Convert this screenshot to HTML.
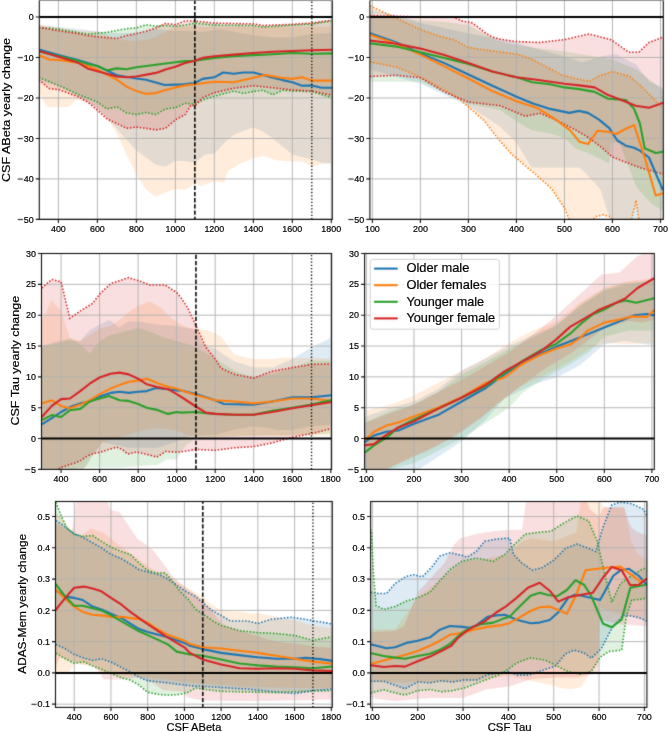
<!DOCTYPE html>
<html><head><meta charset="utf-8"><style>
html,body{margin:0;padding:0;background:#fff;}
svg{display:block;font-family:"Liberation Sans",sans-serif;} text{stroke:#000;stroke-width:0.2px;} #w{width:668px;height:732px;overflow:hidden;}
</style></head><body><div id="w">
<svg width="668" height="732" viewBox="0 0 668 732">
<defs><filter id="idf" filterUnits="userSpaceOnUse" x="0" y="0" width="668" height="732" color-interpolation-filters="sRGB"><feOffset dx="0" dy="0"/></filter><filter id="bl" filterUnits="userSpaceOnUse" x="0" y="0" width="668" height="732" color-interpolation-filters="sRGB"><feConvolveMatrix order="3" kernelMatrix="0.01440 0.09120 0.01440 0.09120 0.57760 0.09120 0.01440 0.09120 0.01440" edgeMode="duplicate" preserveAlpha="true"/></filter></defs>
<g filter="url(#bl)">
<rect width="668" height="732" fill="#fff"/>
<clipPath id="c1"><rect x="39.30" y="0.50" width="293.00" height="218.90"/></clipPath>
<g clip-path="url(#c1)">
<path d="M38.9 25.1 L77.9 29.1 L97.4 31.2 L116.9 33.2 L136.4 32.4 L155.9 29.1 L175.4 31.2 L181.2 30.8 L202.6 32.0 L221.2 29.5 L253.3 35.2 L272.8 37.6 L292.3 37.6 L311.8 34.0 L331.3 32.8 L331.3 163.1 L321.6 162.7 L311.8 159.5 L302.1 157.1 L292.3 154.6 L282.6 146.5 L272.8 138.4 L263.1 131.6 L253.3 127.5 L233.8 134.4 L224.1 142.9 L214.3 153.4 L204.6 154.6 L194.9 162.7 L185.1 161.1 L175.4 160.7 L165.6 166.4 L155.9 164.8 L136.4 150.6 L116.9 129.1 L107.1 118.2 L97.4 108.1 L77.9 95.9 L58.4 85.8 L38.9 81.8 Z" fill="#1f77b4" fill-opacity="0.15"/>
<path d="M38.9 24.3 L58.4 27.5 L77.9 30.4 L97.4 31.6 L107.1 35.2 L116.9 38.9 L130.5 41.3 L146.1 40.1 L154.9 37.2 L163.7 32.8 L175.4 26.7 L331.3 26.7 L331.3 163.9 L321.6 163.9 L311.8 166.4 L302.1 161.5 L292.3 161.5 L276.7 160.3 L263.1 155.8 L253.3 158.3 L239.7 163.9 L228.0 170.8 L224.1 182.6 L214.3 181.3 L200.7 186.2 L194.9 183.0 L191.0 187.0 L185.1 189.8 L175.4 189.0 L165.6 192.3 L155.9 196.7 L146.1 189.8 L136.4 174.5 L126.6 154.6 L116.9 133.6 L107.1 118.2 L97.4 108.1 L87.6 102.0 L75.9 100.0 L68.1 106.9 L46.7 106.9 L38.9 91.9 Z" fill="#ff7f0e" fill-opacity="0.15"/>
<path d="M38.9 27.7 L48.7 28.1 L58.4 29.1 L77.9 32.4 L87.6 34.0 L97.4 33.2 L107.1 32.4 L116.9 30.4 L126.6 28.7 L136.4 27.9 L146.1 24.7 L155.9 26.3 L165.6 25.5 L175.4 26.3 L185.1 25.1 L194.9 23.1 L214.3 25.1 L253.3 25.5 L263.1 27.1 L292.3 25.1 L311.8 23.9 L331.3 21.0 L331.3 97.6 L311.8 91.5 L292.3 91.1 L282.6 90.3 L272.8 94.7 L263.1 90.3 L253.3 91.5 L243.6 93.5 L233.8 91.1 L214.3 96.3 L202.6 100.0 L194.9 104.4 L185.1 103.2 L175.4 107.7 L165.6 108.9 L155.9 114.6 L146.1 112.5 L136.4 114.6 L126.6 112.9 L116.9 106.9 L107.1 108.9 L97.4 102.0 L77.9 94.3 L58.4 85.4 L38.9 77.3 Z" fill="#2ca02c" fill-opacity="0.15"/>
<path d="M38.9 27.3 L46.7 28.7 L58.4 30.8 L77.9 33.6 L87.6 35.6 L97.4 36.8 L116.9 38.5 L126.6 35.6 L136.4 33.6 L146.1 31.2 L155.9 27.9 L165.6 23.5 L175.4 24.7 L185.1 21.0 L194.9 21.0 L214.3 23.1 L253.3 23.9 L263.1 25.5 L292.3 24.3 L311.8 23.1 L331.3 20.2 L331.3 95.1 L311.8 91.1 L292.3 89.9 L272.8 87.8 L253.3 85.8 L233.8 88.2 L214.3 92.7 L202.6 97.6 L194.9 105.7 L191.0 105.2 L185.1 114.6 L175.4 119.8 L165.6 128.3 L155.9 129.9 L146.1 128.3 L136.4 127.1 L126.6 128.3 L116.9 123.5 L107.1 119.0 L97.4 110.1 L87.6 102.0 L77.9 96.7 L58.4 89.5 L49.0 88.6 L38.9 79.7 Z" fill="#d62728" fill-opacity="0.15"/>
<path d="M58.40 0.50 V219.40 M97.39 0.50 V219.40 M136.37 0.50 V219.40 M175.36 0.50 V219.40 M214.34 0.50 V219.40 M253.33 0.50 V219.40 M292.31 0.50 V219.40 M331.30 0.50 V219.40 M39.30 17.00 H332.30 M39.30 57.48 H332.30 M39.30 97.96 H332.30 M39.30 138.44 H332.30 M39.30 178.92 H332.30 M39.30 219.40 H332.30" stroke="#b0b0b0" stroke-width="0.9" fill="none"/>
<path d="M38.9 27.7 L48.7 28.1 L58.4 29.1 L77.9 32.4 L87.6 34.0 L97.4 33.2 L107.1 32.4 L116.9 30.4 L126.6 28.7 L136.4 27.9 L146.1 24.7 L155.9 26.3 L165.6 25.5 L175.4 26.3 L185.1 25.1 L194.9 23.1 L214.3 25.1 L253.3 25.5 L263.1 27.1 L292.3 25.1 L311.8 23.9 L331.3 21.0" stroke="#2ca02c" stroke-width="1.6" stroke-dasharray="1.5 1.8" fill="none"/>
<path d="M38.9 77.3 L58.4 85.4 L77.9 94.3 L97.4 102.0 L107.1 108.9 L116.9 106.9 L126.6 112.9 L136.4 114.6 L146.1 112.5 L155.9 114.6 L165.6 108.9 L175.4 107.7 L185.1 103.2 L194.9 104.4 L202.6 100.0 L214.3 96.3 L233.8 91.1 L243.6 93.5 L253.3 91.5 L263.1 90.3 L272.8 94.7 L282.6 90.3 L292.3 91.1 L311.8 91.5 L331.3 97.6" stroke="#2ca02c" stroke-width="1.6" stroke-dasharray="1.5 1.8" fill="none"/>
<path d="M38.9 27.3 L46.7 28.7 L58.4 30.8 L77.9 33.6 L87.6 35.6 L97.4 36.8 L116.9 38.5 L126.6 35.6 L136.4 33.6 L146.1 31.2 L155.9 27.9 L165.6 23.5 L175.4 24.7 L185.1 21.0 L194.9 21.0 L214.3 23.1 L253.3 23.9 L263.1 25.5 L292.3 24.3 L311.8 23.1 L331.3 20.2" stroke="#d62728" stroke-width="1.6" stroke-dasharray="1.5 1.8" fill="none"/>
<path d="M38.9 79.7 L49.0 88.6 L58.4 89.5 L77.9 96.7 L87.6 102.0 L97.4 110.1 L107.1 119.0 L116.9 123.5 L126.6 128.3 L136.4 127.1 L146.1 128.3 L155.9 129.9 L165.6 128.3 L175.4 119.8 L185.1 114.6 L191.0 105.2 L194.9 105.7 L202.6 97.6 L214.3 92.7 L233.8 88.2 L253.3 85.8 L272.8 87.8 L292.3 89.9 L311.8 91.1 L331.3 95.1" stroke="#d62728" stroke-width="1.6" stroke-dasharray="1.5 1.8" fill="none"/>
<path d="M38.9 49.4 L58.4 55.1 L77.9 59.9 L97.4 66.0 L116.9 75.3 L136.4 78.5 L146.1 79.7 L164.6 85.0 L175.4 84.6 L181.2 84.6 L194.9 83.0 L202.6 78.9 L214.3 77.3 L223.1 72.5 L233.8 73.7 L243.6 72.5 L253.3 72.5 L263.1 74.9 L272.8 77.7 L282.6 80.1 L292.3 82.2 L302.1 85.8 L311.8 85.4 L321.6 87.8 L331.3 87.8" stroke="#1f77b4" stroke-width="2.1" fill="none" stroke-linejoin="round" stroke-linecap="square"/>
<path d="M38.9 55.1 L49.0 59.5 L58.4 59.9 L77.9 62.7 L97.4 69.6 L116.9 79.7 L126.6 86.6 L136.4 91.1 L146.1 93.9 L155.9 93.1 L165.6 89.9 L175.4 87.4 L185.1 85.4 L194.9 84.2 L214.3 81.8 L233.8 82.2 L253.3 77.7 L265.0 74.9 L280.6 77.7 L292.3 78.9 L302.1 77.3 L311.8 80.6 L331.3 80.6" stroke="#ff7f0e" stroke-width="2.1" fill="none" stroke-linejoin="round" stroke-linecap="square"/>
<path d="M38.9 51.4 L58.4 55.9 L77.9 60.7 L87.6 64.0 L97.4 66.0 L107.1 70.4 L116.9 68.4 L126.6 69.2 L136.4 67.2 L155.9 64.8 L175.4 62.3 L185.1 61.1 L194.9 60.7 L214.3 57.9 L233.8 56.3 L253.3 55.1 L272.8 54.2 L292.3 53.0 L311.8 53.8 L331.3 53.4" stroke="#2ca02c" stroke-width="2.1" fill="none" stroke-linejoin="round" stroke-linecap="square"/>
<path d="M38.9 51.0 L58.4 56.7 L77.9 62.7 L87.6 68.4 L97.4 71.2 L116.9 76.5 L126.6 77.3 L136.4 76.5 L155.9 72.9 L165.6 69.6 L175.4 66.8 L185.1 63.1 L194.9 60.7 L202.6 57.9 L214.3 56.3 L233.8 54.6 L253.3 53.0 L272.8 51.8 L292.3 51.0 L311.8 50.2 L331.3 49.8" stroke="#d62728" stroke-width="2.1" fill="none" stroke-linejoin="round" stroke-linecap="square"/>
<path d="M39.30 17.00 H332.30" stroke="#000" stroke-width="2.0"/>
<path d="M194.85 219.40 V0.50" stroke="#111" stroke-width="1.65" stroke-dasharray="4.3 1.9" stroke-dashoffset="1.60"/>
<path d="M311.81 219.40 V0.50" stroke="#111" stroke-width="1.4" stroke-dasharray="1.3 1.98"/>
</g>
<path d="M39.30 0.50 V219.40 H332.30 V0.50" fill="none" stroke="#111" stroke-width="1.1"/>
<path d="M39.30 0.30 H332.30" stroke="#111" stroke-opacity="0.45" stroke-width="1.6"/>
<path d="M58.40 219.40 v3.5 M97.39 219.40 v3.5 M136.37 219.40 v3.5 M175.36 219.40 v3.5 M214.34 219.40 v3.5 M253.33 219.40 v3.5 M292.31 219.40 v3.5 M331.30 219.40 v3.5 M39.30 17.00 h-3.5 M39.30 57.48 h-3.5 M39.30 97.96 h-3.5 M39.30 138.44 h-3.5 M39.30 178.92 h-3.5 M39.30 219.40 h-3.5" stroke="#111" stroke-width="1.1"/>
<path d="M17.73 57.63 H22.95" stroke="#000" stroke-width="0.95"/>
<path d="M17.73 98.11 H22.95" stroke="#000" stroke-width="0.95"/>
<path d="M17.73 138.59 H22.95" stroke="#000" stroke-width="0.95"/>
<path d="M17.73 179.07 H22.95" stroke="#000" stroke-width="0.95"/>
<path d="M17.73 219.55 H22.95" stroke="#000" stroke-width="0.95"/>
<clipPath id="c2"><rect x="369.90" y="0.50" width="293.40" height="218.90"/></clipPath>
<g clip-path="url(#c2)">
<path d="M370.0 8.9 L396.4 15.0 L420.4 23.1 L468.4 33.6 L508.8 40.5 L542.4 50.6 L565.9 56.7 L582.2 62.3 L602.4 55.9 L615.8 54.2 L636.0 64.4 L649.5 81.4 L662.9 87.8 L662.9 227.5 L612.5 227.5 L600.5 189.8 L594.2 182.2 L579.8 167.6 L531.3 167.6 L516.5 142.5 L500.1 126.7 L487.6 118.2 L468.4 106.1 L420.4 83.8 L370.0 69.6 Z" fill="#1f77b4" fill-opacity="0.15"/>
<path d="M370.0 5.7 L392.6 16.6 L420.4 29.5 L440.1 36.4 L453.5 39.7 L468.4 47.4 L483.8 49.8 L501.1 52.2 L517.9 54.2 L531.3 59.1 L544.8 66.0 L561.6 74.9 L575.0 78.5 L589.0 81.4 L599.0 76.1 L612.5 71.6 L629.3 76.1 L642.7 87.8 L656.2 101.6 L662.9 108.1 L662.9 239.6 L639.4 223.4 L636.0 200.4 L630.7 223.4 L614.9 223.4 L610.1 216.6 L602.9 214.9 L595.7 216.6 L590.9 223.4 L570.2 221.4 L564.0 207.3 L551.5 188.6 L537.6 176.1 L525.1 165.6 L512.6 155.0 L500.1 141.3 L483.8 120.2 L468.4 106.9 L460.3 100.0 L444.4 89.9 L420.4 76.9 L396.4 67.2 L370.0 61.9 Z" fill="#ff7f0e" fill-opacity="0.15"/>
<path d="M370.0 15.0 L396.4 18.2 L420.4 20.2 L444.4 21.9 L468.4 25.1 L482.8 33.2 L497.2 40.5 L516.5 45.3 L564.5 51.4 L612.5 59.5 L636.5 69.6 L662.9 89.9 L662.9 211.3 L650.9 203.2 L636.5 187.0 L626.9 162.7 L619.7 142.5 L611.0 142.5 L609.1 163.5 L600.5 159.1 L588.0 153.0 L575.5 148.6 L564.9 138.0 L552.5 134.0 L531.3 129.9 L516.5 121.4 L500.1 110.1 L468.4 104.0 L420.4 81.8 L370.0 81.8 Z" fill="#2ca02c" fill-opacity="0.15"/>
<path d="M370.0 15.8 L396.4 16.2 L420.4 17.0 L454.0 17.0 L462.7 21.3 L471.3 22.5 L478.0 27.0 L484.8 32.5 L492.0 37.0 L500.6 39.3 L516.0 41.5 L539.0 42.5 L564.0 39.7 L589.0 34.0 L611.0 39.7 L628.8 52.2 L638.9 52.2 L649.0 42.5 L662.9 37.2 L662.9 174.1 L639.9 167.6 L625.9 162.3 L612.5 157.1 L600.5 146.5 L588.0 137.2 L575.5 129.9 L563.0 123.5 L550.1 117.4 L540.0 113.3 L525.1 116.2 L512.6 110.9 L500.1 105.7 L468.4 102.0 L444.4 91.9 L420.4 77.7 L396.4 75.3 L370.0 76.5 Z" fill="#d62728" fill-opacity="0.15"/>
<path d="M372.40 0.50 V219.40 M420.42 0.50 V219.40 M468.43 0.50 V219.40 M516.45 0.50 V219.40 M564.47 0.50 V219.40 M612.48 0.50 V219.40 M660.50 0.50 V219.40 M369.90 17.00 H663.30 M369.90 57.48 H663.30 M369.90 97.96 H663.30 M369.90 138.44 H663.30 M369.90 178.92 H663.30 M369.90 219.40 H663.30" stroke="#b0b0b0" stroke-width="0.9" fill="none"/>
<path d="M370.0 5.7 L392.6 16.6 L420.4 29.5 L440.1 36.4 L453.5 39.7 L468.4 47.4 L483.8 49.8 L501.1 52.2 L517.9 54.2 L531.3 59.1 L544.8 66.0 L561.6 74.9 L575.0 78.5 L589.0 81.4 L599.0 76.1 L612.5 71.6 L629.3 76.1 L642.7 87.8 L656.2 101.6 L662.9 108.1" stroke="#ff7f0e" stroke-width="1.6" stroke-dasharray="1.5 1.8" fill="none"/>
<path d="M370.0 61.9 L396.4 67.2 L420.4 76.9 L444.4 89.9 L460.3 100.0 L468.4 106.9 L483.8 120.2 L500.1 141.3 L512.6 155.0 L525.1 165.6 L537.6 176.1 L551.5 188.6 L564.0 207.3 L570.2 221.4 L590.9 223.4 L595.7 216.6 L602.9 214.9 L610.1 216.6 L614.9 223.4 L630.7 223.4 L636.0 200.4 L639.4 223.4 L662.9 239.6" stroke="#ff7f0e" stroke-width="1.6" stroke-dasharray="1.5 1.8" fill="none"/>
<path d="M370.0 15.8 L396.4 16.2 L420.4 17.0 L454.0 17.0 L462.7 21.3 L471.3 22.5 L478.0 27.0 L484.8 32.5 L492.0 37.0 L500.6 39.3 L516.0 41.5 L539.0 42.5 L564.0 39.7 L589.0 34.0 L611.0 39.7 L628.8 52.2 L638.9 52.2 L649.0 42.5 L662.9 37.2" stroke="#d62728" stroke-width="1.6" stroke-dasharray="1.5 1.8" fill="none"/>
<path d="M370.0 76.5 L396.4 75.3 L420.4 77.7 L444.4 91.9 L468.4 102.0 L500.1 105.7 L512.6 110.9 L525.1 116.2 L540.0 113.3 L550.1 117.4 L563.0 123.5 L575.5 129.9 L588.0 137.2 L600.5 146.5 L612.5 157.1 L625.9 162.3 L639.9 167.6 L662.9 174.1" stroke="#d62728" stroke-width="1.6" stroke-dasharray="1.5 1.8" fill="none"/>
<path d="M370.0 33.2 L396.4 42.5 L420.4 53.4 L444.4 63.1 L468.4 74.5 L492.4 85.8 L516.5 96.7 L532.3 103.2 L550.1 108.9 L569.3 112.9 L578.9 110.9 L588.0 112.9 L598.6 119.4 L609.1 127.9 L617.3 140.5 L625.9 145.7 L634.1 147.8 L639.9 150.6 L649.0 157.5 L662.4 189.0" stroke="#1f77b4" stroke-width="2.1" fill="none" stroke-linejoin="round" stroke-linecap="square"/>
<path d="M370.0 34.8 L396.4 43.7 L420.4 54.6 L444.4 66.4 L468.4 78.5 L492.4 91.1 L516.5 101.2 L536.6 107.7 L554.9 119.0 L570.2 130.3 L579.4 141.7 L588.0 144.1 L597.6 130.7 L609.1 132.0 L616.3 134.0 L625.9 128.7 L634.1 125.1 L644.7 157.5 L655.7 195.5 L662.4 193.5" stroke="#ff7f0e" stroke-width="2.1" fill="none" stroke-linejoin="round" stroke-linecap="square"/>
<path d="M370.0 43.3 L396.4 46.6 L420.4 52.2 L444.4 57.9 L468.4 64.0 L492.4 71.6 L516.5 77.3 L532.3 82.2 L550.1 84.2 L564.5 87.4 L579.4 89.1 L594.7 91.9 L608.2 98.8 L625.9 100.0 L634.1 108.9 L639.9 123.5 L644.7 148.2 L655.7 153.0 L662.4 151.8" stroke="#2ca02c" stroke-width="2.1" fill="none" stroke-linejoin="round" stroke-linecap="square"/>
<path d="M370.0 40.5 L396.4 43.7 L420.4 48.6 L444.4 55.1 L468.4 63.1 L492.4 71.6 L516.5 77.3 L536.6 79.7 L564.5 83.8 L579.4 85.4 L594.7 87.4 L608.2 95.1 L624.5 101.2 L635.5 105.7 L649.0 107.7 L662.4 103.2" stroke="#d62728" stroke-width="2.1" fill="none" stroke-linejoin="round" stroke-linecap="square"/>
<path d="M369.90 17.00 H663.30" stroke="#000" stroke-width="2.0"/>
</g>
<path d="M369.90 0.50 V219.40 H663.30 V0.50" fill="none" stroke="#111" stroke-width="1.1"/>
<path d="M369.90 0.30 H663.30" stroke="#111" stroke-opacity="0.45" stroke-width="1.6"/>
<path d="M372.40 219.40 v3.5 M420.42 219.40 v3.5 M468.43 219.40 v3.5 M516.45 219.40 v3.5 M564.47 219.40 v3.5 M612.48 219.40 v3.5 M660.50 219.40 v3.5 M369.90 17.00 h-3.5 M369.90 57.48 h-3.5 M369.90 97.96 h-3.5 M369.90 138.44 h-3.5 M369.90 178.92 h-3.5 M369.90 219.40 h-3.5" stroke="#111" stroke-width="1.1"/>
<path d="M348.33 57.63 H353.55" stroke="#000" stroke-width="0.95"/>
<path d="M348.33 98.11 H353.55" stroke="#000" stroke-width="0.95"/>
<path d="M348.33 138.59 H353.55" stroke="#000" stroke-width="0.95"/>
<path d="M348.33 179.07 H353.55" stroke="#000" stroke-width="0.95"/>
<path d="M348.33 219.55 H353.55" stroke="#000" stroke-width="0.95"/>
<clipPath id="c3"><rect x="41.50" y="253.50" width="290.10" height="215.90"/></clipPath>
<g clip-path="url(#c3)">
<path d="M41.8 346.0 L61.1 339.9 L80.3 341.1 L89.6 330.6 L99.6 324.4 L109.2 320.1 L118.9 327.5 L128.5 321.4 L138.1 321.4 L157.4 324.4 L176.7 325.7 L184.4 327.5 L195.9 329.4 L201.7 342.9 L215.2 349.1 L234.5 361.4 L253.7 367.6 L273.0 367.6 L292.3 359.0 L311.5 347.3 L330.8 338.0 L330.8 424.4 L311.5 426.2 L292.1 429.9 L276.9 429.9 L265.3 427.5 L253.0 426.2 L232.5 429.9 L216.0 434.9 L190.0 436.1 L176.7 441.6 L157.4 447.8 L128.5 447.8 L115.8 444.7 L102.3 442.6 L93.4 454.0 L86.7 465.1 L80.3 472.5 L41.8 475.6 Z" fill="#1f77b4" fill-opacity="0.15"/>
<path d="M41.8 320.1 L51.8 300.4 L61.1 310.9 L69.9 338.0 L80.3 341.1 L89.6 334.9 L99.6 328.8 L110.6 325.7 L119.6 320.1 L128.7 312.1 L138.1 305.9 L149.9 301.6 L160.5 307.2 L169.5 316.4 L178.4 323.2 L185.7 326.9 L196.5 329.4 L205.4 330.0 L214.4 333.1 L220.6 336.2 L234.5 354.7 L253.7 359.0 L272.2 359.0 L282.6 357.7 L330.8 358.4 L330.8 435.5 L292.3 435.5 L253.7 436.1 L215.2 436.7 L190.0 436.1 L176.7 430.5 L157.4 428.1 L138.1 431.2 L128.5 434.9 L115.8 438.2 L102.3 442.6 L93.4 454.0 L86.7 465.1 L80.3 472.5 L41.8 475.6 Z" fill="#ff7f0e" fill-opacity="0.15"/>
<path d="M41.8 346.6 L61.1 342.3 L69.9 338.0 L80.3 344.2 L89.6 353.4 L99.6 341.1 L110.6 334.9 L128.7 330.6 L138.1 328.1 L149.9 331.8 L164.9 338.0 L176.7 341.1 L187.5 344.2 L195.9 347.3 L215.2 358.4 L234.5 370.7 L253.7 376.9 L273.0 373.8 L292.3 367.6 L311.5 360.8 L330.8 360.8 L330.8 433.6 L292.3 435.5 L253.7 435.5 L215.2 436.7 L195.9 438.6 L186.3 444.7 L176.7 459.5 L167.0 459.5 L157.4 465.1 L138.1 466.3 L118.9 467.5 L80.3 467.5 L41.8 475.6 Z" fill="#2ca02c" fill-opacity="0.15"/>
<path d="M41.8 288.0 L51.8 279.4 L61.1 281.9 L69.9 318.3 L80.3 310.9 L92.5 303.5 L99.6 294.2 L110.6 283.7 L128.7 277.6 L138.1 280.6 L149.9 285.0 L164.9 285.0 L176.7 292.4 L181.5 298.5 L187.7 307.8 L195.9 325.7 L205.8 347.3 L215.2 359.0 L221.0 368.2 L234.5 374.4 L253.7 378.1 L272.2 371.3 L292.3 367.6 L311.5 364.5 L330.8 363.9 L330.8 428.7 L311.5 433.6 L292.3 437.3 L272.2 442.9 L253.7 446.6 L234.5 447.8 L215.2 450.3 L195.9 449.4 L181.5 451.8 L176.7 452.1 L165.7 451.5 L156.8 457.1 L145.6 454.0 L136.6 452.1 L127.7 454.0 L122.1 449.4 L116.6 447.2 L107.7 449.7 L101.0 452.1 L94.2 453.4 L87.5 455.8 L80.3 460.8 L73.8 463.2 L66.8 465.7 L60.5 467.5 L41.8 484.8 Z" fill="#d62728" fill-opacity="0.15"/>
<path d="M61.07 253.50 V469.40 M99.60 253.50 V469.40 M138.14 253.50 V469.40 M176.67 253.50 V469.40 M215.20 253.50 V469.40 M253.73 253.50 V469.40 M292.27 253.50 V469.40 M330.80 253.50 V469.40 M41.50 469.40 H331.60 M41.50 438.56 H331.60 M41.50 407.71 H331.60 M41.50 376.87 H331.60 M41.50 346.03 H331.60 M41.50 315.19 H331.60 M41.50 284.34 H331.60 M41.50 253.50 H331.60" stroke="#b0b0b0" stroke-width="0.9" fill="none"/>
<path d="M41.8 288.0 L51.8 279.4 L61.1 281.9 L69.9 318.3 L80.3 310.9 L92.5 303.5 L99.6 294.2 L110.6 283.7 L128.7 277.6 L138.1 280.6 L149.9 285.0 L164.9 285.0 L176.7 292.4 L181.5 298.5 L187.7 307.8 L195.9 325.7 L205.8 347.3 L215.2 359.0 L221.0 368.2 L234.5 374.4 L253.7 378.1 L272.2 371.3 L292.3 367.6 L311.5 364.5 L330.8 363.9" stroke="#d62728" stroke-width="1.6" stroke-dasharray="1.5 1.8" fill="none"/>
<path d="M41.8 484.8 L60.5 467.5 L66.8 465.7 L73.8 463.2 L80.3 460.8 L87.5 455.8 L94.2 453.4 L101.0 452.1 L107.7 449.7 L116.6 447.2 L122.1 449.4 L127.7 454.0 L136.6 452.1 L145.6 454.0 L156.8 457.1 L165.7 451.5 L176.7 452.1 L181.5 451.8 L195.9 449.4 L215.2 450.3 L234.5 447.8 L253.7 446.6 L272.2 442.9 L292.3 437.3 L311.5 433.6 L330.8 428.7" stroke="#d62728" stroke-width="1.6" stroke-dasharray="1.5 1.8" fill="none"/>
<path d="M41.8 424.4 L51.8 418.2 L61.1 412.0 L69.9 407.1 L80.3 403.4 L89.6 401.5 L99.6 396.6 L110.6 392.9 L119.6 391.7 L128.7 392.9 L138.1 391.7 L146.8 391.1 L155.9 388.0 L168.0 389.2 L176.7 390.4 L181.5 390.4 L195.9 394.1 L215.2 400.3 L223.9 404.0 L253.7 404.6 L272.2 401.5 L292.3 397.2 L311.5 397.2 L330.8 395.4" stroke="#1f77b4" stroke-width="2.1" fill="none" stroke-linejoin="round" stroke-linecap="square"/>
<path d="M41.8 403.4 L51.8 400.3 L61.1 405.9 L69.9 408.3 L80.3 404.6 L89.6 400.3 L99.6 394.1 L110.6 388.6 L119.6 384.9 L128.7 381.8 L138.1 380.6 L146.8 378.7 L158.9 383.7 L168.0 386.7 L176.7 388.6 L181.5 390.4 L195.9 395.1 L215.2 400.3 L234.5 401.5 L253.7 403.4 L272.2 401.5 L292.3 398.5 L311.5 398.5 L330.8 400.9" stroke="#ff7f0e" stroke-width="2.1" fill="none" stroke-linejoin="round" stroke-linecap="square"/>
<path d="M41.8 420.1 L51.8 415.1 L61.1 417.0 L69.9 410.2 L80.3 408.9 L89.6 401.5 L99.6 398.5 L109.0 396.0 L119.6 400.3 L128.7 400.9 L138.1 404.0 L146.8 407.7 L155.9 409.6 L168.0 413.9 L176.7 412.0 L181.5 412.6 L195.9 412.0 L205.8 413.3 L215.2 413.9 L234.5 414.8 L253.7 414.8 L272.2 410.8 L292.3 407.7 L311.5 404.6 L330.8 400.3" stroke="#2ca02c" stroke-width="2.1" fill="none" stroke-linejoin="round" stroke-linecap="square"/>
<path d="M41.8 417.0 L51.8 405.9 L61.1 399.1 L69.9 398.5 L80.3 391.1 L89.6 383.7 L99.6 377.5 L110.6 373.8 L119.6 372.6 L128.7 374.4 L138.1 378.7 L146.8 384.3 L158.9 387.4 L168.0 389.2 L176.7 394.1 L181.5 397.2 L195.9 406.5 L205.8 412.6 L215.2 413.9 L234.5 414.8 L253.7 414.8 L272.2 412.0 L292.3 408.3 L311.5 405.2 L330.8 402.2" stroke="#d62728" stroke-width="2.1" fill="none" stroke-linejoin="round" stroke-linecap="square"/>
<path d="M41.50 438.56 H331.60" stroke="#000" stroke-width="2.0"/>
<path d="M195.94 469.40 V253.50" stroke="#111" stroke-width="1.65" stroke-dasharray="4.3 1.9" stroke-dashoffset="0.50"/>
<path d="M311.53 469.40 V253.50" stroke="#111" stroke-width="1.4" stroke-dasharray="1.3 1.98"/>
</g>
<rect x="41.50" y="253.50" width="290.10" height="215.90" fill="none" stroke="#111" stroke-width="1.1"/>
<path d="M61.07 469.40 v3.5 M99.60 469.40 v3.5 M138.14 469.40 v3.5 M176.67 469.40 v3.5 M215.20 469.40 v3.5 M253.73 469.40 v3.5 M292.27 469.40 v3.5 M330.80 469.40 v3.5 M41.50 469.40 h-3.5 M41.50 438.56 h-3.5 M41.50 407.71 h-3.5 M41.50 376.87 h-3.5 M41.50 346.03 h-3.5 M41.50 315.19 h-3.5 M41.50 284.34 h-3.5 M41.50 253.50 h-3.5" stroke="#111" stroke-width="1.1"/>
<path d="M24.89 469.55 H30.11" stroke="#000" stroke-width="0.95"/>
<clipPath id="c4"><rect x="364.60" y="253.50" width="289.70" height="215.90"/></clipPath>
<g clip-path="url(#c4)">
<path d="M364.5 417.0 L390.2 407.7 L414.0 401.5 L437.8 389.2 L461.6 370.7 L485.4 358.4 L509.1 346.0 L556.7 324.4 L580.5 305.9 L604.3 290.5 L628.1 284.3 L653.3 281.3 L653.3 345.4 L625.3 341.1 L604.3 344.2 L580.0 365.2 L556.7 377.5 L534.8 383.7 L504.4 398.5 L485.4 420.1 L461.6 441.6 L437.8 457.1 L414.0 472.5 L390.2 475.6 L364.5 475.6 Z" fill="#1f77b4" fill-opacity="0.15"/>
<path d="M364.5 410.8 L391.1 404.6 L414.0 395.4 L437.8 383.0 L461.6 370.7 L485.4 358.4 L509.1 342.9 L532.9 330.6 L556.7 321.4 L580.0 302.8 L604.3 287.4 L628.1 281.3 L653.3 278.2 L653.3 342.9 L628.6 344.2 L604.3 342.9 L588.6 349.1 L570.1 361.4 L546.7 373.8 L520.1 386.7 L503.9 399.1 L480.6 417.6 L457.3 433.6 L434.0 446.6 L410.7 457.1 L387.3 468.8 L364.5 469.4 Z" fill="#ff7f0e" fill-opacity="0.15"/>
<path d="M364.5 422.5 L391.1 410.8 L414.0 404.6 L437.8 392.3 L461.6 374.4 L485.8 362.1 L509.1 349.1 L556.7 325.7 L580.0 304.7 L604.3 289.3 L625.3 283.1 L653.3 280.6 L653.3 330.6 L628.6 330.6 L604.3 336.8 L588.6 352.2 L570.1 364.5 L546.7 376.9 L523.4 392.3 L509.1 407.7 L461.6 438.6 L414.0 463.2 L364.5 475.6 Z" fill="#2ca02c" fill-opacity="0.15"/>
<path d="M364.5 423.1 L414.0 404.6 L461.6 380.0 L509.1 352.2 L540.6 328.8 L556.7 315.2 L577.2 296.7 L601.5 274.5 L619.5 272.6 L637.6 256.0 L653.3 250.4 L653.3 320.1 L642.4 322.6 L628.6 321.0 L604.3 328.1 L588.6 339.9 L570.1 353.7 L546.7 367.6 L523.4 384.3 L500.1 401.5 L480.6 418.5 L457.3 434.9 L434.0 447.8 L410.7 458.3 L387.3 468.8 L364.5 468.8 Z" fill="#d62728" fill-opacity="0.15"/>
<path d="M366.40 253.50 V469.40 M413.98 253.50 V469.40 M461.57 253.50 V469.40 M509.15 253.50 V469.40 M556.73 253.50 V469.40 M604.32 253.50 V469.40 M651.90 253.50 V469.40 M364.60 469.40 H654.30 M364.60 438.56 H654.30 M364.60 407.71 H654.30 M364.60 376.87 H654.30 M364.60 346.03 H654.30 M364.60 315.19 H654.30 M364.60 284.34 H654.30 M364.60 253.50 H654.30" stroke="#b0b0b0" stroke-width="0.9" fill="none"/>
<path d="M364.5 442.3 L374.0 435.5 L386.4 431.8 L398.3 430.5 L414.0 423.8 L437.8 415.1 L461.6 401.5 L485.8 388.0 L504.4 374.4 L522.5 362.1 L540.6 353.4 L556.7 346.6 L571.0 341.1 L586.2 334.9 L604.3 327.5 L619.5 321.4 L634.3 315.2 L646.7 314.0 L653.3 315.2" stroke="#1f77b4" stroke-width="2.1" fill="none" stroke-linejoin="round" stroke-linecap="square"/>
<path d="M364.5 440.4 L374.0 431.8 L386.4 425.6 L398.3 422.5 L414.0 416.4 L437.8 407.7 L461.6 397.2 L485.8 383.0 L504.4 377.5 L522.5 363.9 L540.6 354.7 L556.7 348.5 L571.0 344.2 L580.0 338.0 L587.7 330.6 L604.3 322.6 L619.5 319.5 L631.4 316.4 L646.7 317.0 L653.3 310.9" stroke="#ff7f0e" stroke-width="2.1" fill="none" stroke-linejoin="round" stroke-linecap="square"/>
<path d="M364.5 452.7 L374.0 445.3 L386.4 437.9 L398.3 427.5 L414.0 419.4 L437.8 408.9 L461.6 397.8 L485.8 386.1 L504.4 373.2 L522.5 360.8 L540.6 350.3 L555.8 344.2 L570.1 333.7 L581.5 323.2 L593.4 314.0 L604.3 309.6 L616.2 302.8 L625.3 300.4 L636.2 302.8 L653.3 298.5" stroke="#2ca02c" stroke-width="2.1" fill="none" stroke-linejoin="round" stroke-linecap="square"/>
<path d="M364.5 445.3 L374.0 444.1 L386.4 434.9 L398.3 427.5 L414.0 421.3 L437.8 408.9 L461.6 397.8 L485.8 384.9 L504.4 371.3 L523.4 360.8 L542.0 350.3 L555.8 339.9 L570.1 326.9 L583.9 318.9 L598.1 310.3 L616.2 302.8 L625.3 298.5 L637.6 288.0 L653.3 278.8" stroke="#d62728" stroke-width="2.1" fill="none" stroke-linejoin="round" stroke-linecap="square"/>
<path d="M364.60 438.56 H654.30" stroke="#000" stroke-width="2.0"/>
</g>
<rect x="364.60" y="253.50" width="289.70" height="215.90" fill="none" stroke="#111" stroke-width="1.1"/>
<path d="M366.40 469.40 v3.5 M413.98 469.40 v3.5 M461.57 469.40 v3.5 M509.15 469.40 v3.5 M556.73 469.40 v3.5 M604.32 469.40 v3.5 M651.90 469.40 v3.5 M364.60 469.40 h-3.5 M364.60 438.56 h-3.5 M364.60 407.71 h-3.5 M364.60 376.87 h-3.5 M364.60 346.03 h-3.5 M364.60 315.19 h-3.5 M364.60 284.34 h-3.5 M364.60 253.50 h-3.5" stroke="#111" stroke-width="1.1"/>
<path d="M347.99 469.55 H353.21" stroke="#000" stroke-width="0.95"/>
<clipPath id="c5"><rect x="55.50" y="501.50" width="276.80" height="205.90"/></clipPath>
<g clip-path="url(#c5)">
<path d="M55.9 520.6 L65.3 526.9 L74.2 534.1 L82.7 537.2 L92.6 542.8 L101.4 547.8 L111.0 554.4 L121.6 558.8 L130.3 564.1 L139.1 569.7 L147.7 571.9 L159.1 574.7 L167.9 579.1 L176.7 585.0 L184.4 590.7 L195.8 596.6 L202.8 602.9 L212.9 611.0 L221.1 615.4 L230.3 621.0 L247.8 621.0 L257.9 623.5 L270.7 619.4 L290.9 617.2 L305.6 619.4 L320.3 621.9 L331.3 623.8 L331.3 689.2 L312.9 690.7 L294.6 693.5 L276.2 692.0 L248.7 689.2 L221.1 687.6 L202.8 686.3 L195.8 686.3 L184.4 685.1 L167.9 682.9 L147.7 680.7 L139.1 677.3 L130.3 672.0 L121.6 667.6 L111.0 662.0 L101.4 658.8 L92.6 660.4 L82.7 657.6 L74.2 654.5 L65.3 648.8 L55.9 644.4 Z" fill="#1f77b4" fill-opacity="0.15"/>
<path d="M55.9 512.5 L61.2 517.8 L73.1 531.2 L79.2 537.2 L91.1 528.4 L103.1 532.8 L115.0 541.9 L133.0 555.3 L153.8 570.3 L168.6 576.3 L180.0 583.2 L191.9 590.7 L202.8 596.9 L211.2 604.1 L220.8 610.4 L230.3 611.6 L239.9 611.6 L249.4 613.5 L260.1 613.5 L268.3 615.1 L282.6 618.2 L294.6 619.7 L303.8 622.9 L312.9 625.7 L331.3 627.9 L331.3 688.5 L257.9 687.0 L202.8 683.8 L184.4 682.3 L166.1 679.2 L147.7 677.6 L129.3 676.0 L111.0 674.5 L103.6 672.9 L92.6 666.6 L74.2 663.5 L68.7 672.9 L55.9 672.9 Z" fill="#ff7f0e" fill-opacity="0.15"/>
<path d="M55.9 502.2 L61.0 515.3 L66.9 528.4 L74.2 534.1 L82.7 536.3 L92.6 535.6 L101.4 541.3 L111.0 547.2 L121.6 551.6 L130.3 554.4 L139.1 563.1 L147.7 570.3 L156.3 573.1 L165.0 572.8 L170.8 579.1 L179.5 590.7 L188.1 599.4 L195.8 609.4 L202.8 613.8 L212.9 621.0 L221.1 625.4 L239.5 630.7 L257.9 632.6 L276.2 633.5 L294.6 635.4 L312.9 640.4 L331.3 636.9 L331.3 690.7 L303.8 691.3 L276.2 692.6 L248.7 692.0 L221.1 691.3 L202.8 689.2 L195.8 687.9 L188.1 692.3 L179.5 694.5 L167.9 695.1 L159.1 694.5 L147.7 692.3 L139.1 685.1 L130.3 680.1 L121.6 677.9 L111.0 673.5 L101.4 669.1 L92.6 666.0 L84.2 662.0 L74.2 663.2 L65.3 658.8 L55.9 653.2 Z" fill="#2ca02c" fill-opacity="0.15"/>
<path d="M55.9 523.4 L61.4 525.9 L66.9 529.1 L71.7 532.2 L74.2 516.5 L76.5 497.8 L106.4 497.8 L110.4 510.3 L119.4 511.9 L128.4 525.3 L137.4 538.8 L146.4 544.7 L153.8 550.9 L162.7 562.8 L171.7 575.0 L180.7 583.8 L191.9 591.9 L202.8 600.4 L211.2 610.4 L218.4 619.4 L223.2 624.4 L230.3 627.2 L239.9 630.4 L257.9 636.3 L268.3 639.8 L282.6 642.6 L294.6 643.5 L303.9 644.8 L312.9 646.3 L325.2 647.6 L331.3 647.9 L331.3 699.5 L257.9 701.0 L202.8 700.4 L186.3 697.3 L184.4 691.7 L162.4 690.1 L156.9 685.4 L147.7 680.7 L139.1 677.3 L125.7 679.2 L111.0 679.8 L103.6 679.2 L100.0 672.9 L92.6 665.1 L74.2 662.0 L59.6 657.3 L55.9 666.6 Z" fill="#d62728" fill-opacity="0.15"/>
<path d="M74.25 501.50 V707.40 M110.97 501.50 V707.40 M147.69 501.50 V707.40 M184.41 501.50 V707.40 M221.14 501.50 V707.40 M257.86 501.50 V707.40 M294.58 501.50 V707.40 M331.30 501.50 V707.40 M55.50 704.17 H332.30 M55.50 672.90 H332.30 M55.50 641.63 H332.30 M55.50 610.36 H332.30 M55.50 579.09 H332.30 M55.50 547.82 H332.30 M55.50 516.55 H332.30" stroke="#b0b0b0" stroke-width="0.9" fill="none"/>
<path d="M55.9 520.6 L65.3 526.9 L74.2 534.1 L82.7 537.2 L92.6 542.8 L101.4 547.8 L111.0 554.4 L121.6 558.8 L130.3 564.1 L139.1 569.7 L147.7 571.9 L159.1 574.7 L167.9 579.1 L176.7 585.0 L184.4 590.7 L195.8 596.6 L202.8 602.9 L212.9 611.0 L221.1 615.4 L230.3 621.0 L247.8 621.0 L257.9 623.5 L270.7 619.4 L290.9 617.2 L305.6 619.4 L320.3 621.9 L331.3 623.8" stroke="#1f77b4" stroke-width="1.6" stroke-dasharray="1.5 1.8" fill="none"/>
<path d="M55.9 644.4 L65.3 648.8 L74.2 654.5 L82.7 657.6 L92.6 660.4 L101.4 658.8 L111.0 662.0 L121.6 667.6 L130.3 672.0 L139.1 677.3 L147.7 680.7 L167.9 682.9 L184.4 685.1 L195.8 686.3 L202.8 686.3 L221.1 687.6 L248.7 689.2 L276.2 692.0 L294.6 693.5 L312.9 690.7 L331.3 689.2" stroke="#1f77b4" stroke-width="1.6" stroke-dasharray="1.5 1.8" fill="none"/>
<path d="M55.9 502.2 L61.0 515.3 L66.9 528.4 L74.2 534.1 L82.7 536.3 L92.6 535.6 L101.4 541.3 L111.0 547.2 L121.6 551.6 L130.3 554.4 L139.1 563.1 L147.7 570.3 L156.3 573.1 L165.0 572.8 L170.8 579.1 L179.5 590.7 L188.1 599.4 L195.8 609.4 L202.8 613.8 L212.9 621.0 L221.1 625.4 L239.5 630.7 L257.9 632.6 L276.2 633.5 L294.6 635.4 L312.9 640.4 L331.3 636.9" stroke="#2ca02c" stroke-width="1.6" stroke-dasharray="1.5 1.8" fill="none"/>
<path d="M55.9 653.2 L65.3 658.8 L74.2 663.2 L84.2 662.0 L92.6 666.0 L101.4 669.1 L111.0 673.5 L121.6 677.9 L130.3 680.1 L139.1 685.1 L147.7 692.3 L159.1 694.5 L167.9 695.1 L179.5 694.5 L188.1 692.3 L195.8 687.9 L202.8 689.2 L221.1 691.3 L248.7 692.0 L276.2 692.6 L303.8 691.3 L331.3 690.7" stroke="#2ca02c" stroke-width="1.6" stroke-dasharray="1.5 1.8" fill="none"/>
<path d="M55.9 590.7 L65.3 596.6 L74.2 597.9 L82.7 600.0 L92.6 606.6 L101.4 609.4 L111.0 613.8 L121.6 618.2 L139.1 629.1 L147.7 631.9 L167.9 637.3 L184.4 642.9 L189.9 645.7 L202.8 649.1 L221.1 652.9 L239.5 655.1 L257.9 657.3 L276.2 658.8 L294.6 658.8 L305.6 657.9 L320.3 659.1 L331.3 660.7" stroke="#1f77b4" stroke-width="2.1" fill="none" stroke-linejoin="round" stroke-linecap="square"/>
<path d="M55.9 590.0 L65.3 598.8 L74.2 606.6 L82.7 611.9 L92.6 614.7 L101.4 615.4 L111.0 616.9 L121.6 616.9 L139.1 619.1 L147.7 622.6 L156.3 628.5 L167.9 634.8 L184.4 640.7 L189.9 644.1 L202.8 647.3 L221.1 648.5 L239.5 650.7 L257.9 652.9 L276.2 655.7 L294.6 658.8 L312.9 661.6 L331.3 663.5" stroke="#ff7f0e" stroke-width="2.1" fill="none" stroke-linejoin="round" stroke-linecap="square"/>
<path d="M55.9 584.4 L65.3 596.6 L74.2 605.7 L82.7 605.7 L92.6 608.2 L101.4 610.4 L111.0 615.4 L121.6 621.3 L139.1 631.3 L147.7 635.1 L167.9 644.4 L176.7 651.6 L184.4 653.2 L189.9 654.5 L202.8 655.7 L221.1 659.5 L239.5 663.5 L257.9 665.4 L276.2 666.6 L294.6 667.3 L312.9 668.2 L331.3 666.6" stroke="#2ca02c" stroke-width="2.1" fill="none" stroke-linejoin="round" stroke-linecap="square"/>
<path d="M55.9 609.7 L65.3 597.9 L74.2 587.8 L84.2 586.6 L92.6 588.5 L101.4 591.3 L111.0 597.9 L121.6 604.7 L130.3 611.9 L147.7 624.1 L167.9 637.6 L184.4 647.3 L189.9 652.9 L202.8 659.5 L221.1 664.5 L239.5 668.2 L257.9 668.8 L276.2 668.2 L294.6 668.8 L312.9 670.4 L331.3 671.0" stroke="#d62728" stroke-width="2.1" fill="none" stroke-linejoin="round" stroke-linecap="square"/>
<path d="M55.50 672.90 H332.30" stroke="#000" stroke-width="2.0"/>
<path d="M202.78 707.40 V501.50" stroke="#111" stroke-width="1.65" stroke-dasharray="4.3 1.9" stroke-dashoffset="1.00"/>
<path d="M312.94 707.40 V501.50" stroke="#111" stroke-width="1.4" stroke-dasharray="1.3 1.98"/>
</g>
<rect x="55.50" y="501.50" width="276.80" height="205.90" fill="none" stroke="#111" stroke-width="1.1"/>
<path d="M74.25 707.40 v3.5 M110.97 707.40 v3.5 M147.69 707.40 v3.5 M184.41 707.40 v3.5 M221.14 707.40 v3.5 M257.86 707.40 v3.5 M294.58 707.40 v3.5 M331.30 707.40 v3.5 M55.50 704.17 h-3.5 M55.50 672.90 h-3.5 M55.50 641.63 h-3.5 M55.50 610.36 h-3.5 M55.50 579.09 h-3.5 M55.50 547.82 h-3.5 M55.50 516.55 h-3.5" stroke="#111" stroke-width="1.1"/>
<path d="M31.45 704.32 H36.67" stroke="#000" stroke-width="0.95"/>
<clipPath id="c6"><rect x="370.60" y="501.50" width="276.30" height="205.90"/></clipPath>
<g clip-path="url(#c6)">
<path d="M370.6 592.2 L377.8 593.5 L386.5 593.5 L395.1 583.5 L406.4 576.3 L413.7 574.7 L422.3 576.9 L432.7 566.0 L439.9 556.0 L449.9 552.8 L461.7 555.3 L467.1 557.2 L476.2 551.6 L484.8 541.3 L496.2 539.1 L504.8 538.4 L509.8 538.4 L513.4 554.4 L522.0 563.1 L532.4 570.3 L542.4 567.5 L553.7 560.3 L565.5 548.4 L576.9 544.1 L588.6 548.4 L595.9 551.6 L603.1 526.9 L611.8 505.0 L620.4 502.2 L631.7 503.7 L643.5 509.4 L646.7 515.3 L646.7 621.0 L640.3 618.2 L631.7 616.0 L623.1 615.4 L611.8 628.2 L601.3 648.5 L591.4 658.2 L584.1 652.9 L574.1 650.1 L565.5 653.8 L555.5 666.0 L539.7 671.3 L528.8 675.1 L517.0 675.1 L508.4 671.6 L499.3 672.9 L487.5 674.8 L476.2 680.1 L464.4 679.8 L452.6 682.0 L441.3 680.7 L430.0 682.9 L417.7 682.0 L405.0 688.8 L395.1 685.1 L383.7 681.3 L370.6 681.3 Z" fill="#1f77b4" fill-opacity="0.15"/>
<path d="M370.6 629.1 L395.1 629.1 L408.7 610.4 L417.7 597.9 L440.4 579.1 L463.1 561.6 L485.7 558.8 L508.4 554.1 L522.0 541.6 L531.1 538.4 L553.7 541.6 L576.4 532.2 L580.9 497.8 L599.1 497.8 L603.6 507.2 L624.0 507.2 L627.2 522.8 L631.3 541.6 L637.6 554.1 L646.7 560.3 L646.7 619.7 L617.2 613.5 L599.5 607.2 L598.2 663.5 L590.0 672.9 L580.9 687.0 L571.9 689.2 L559.6 687.9 L553.7 685.4 L508.4 676.0 L463.1 682.3 L417.7 682.3 L370.6 682.3 Z" fill="#ff7f0e" fill-opacity="0.15"/>
<path d="M370.6 529.1 L371.5 532.8 L373.3 570.3 L376.0 605.4 L383.7 609.4 L395.1 606.6 L406.4 601.0 L417.7 597.9 L430.0 592.2 L439.9 580.7 L449.9 569.7 L461.7 561.3 L476.2 558.1 L493.4 561.3 L504.8 554.4 L513.4 545.6 L525.2 534.1 L539.7 532.2 L551.0 531.2 L562.8 523.7 L576.9 515.9 L588.6 520.9 L597.3 541.3 L604.5 573.1 L611.8 602.2 L620.4 583.5 L629.0 577.5 L640.3 570.3 L646.7 567.5 L646.7 597.9 L640.3 599.4 L631.7 600.0 L626.3 616.6 L621.7 650.1 L608.6 651.6 L600.0 657.3 L591.4 671.3 L580.0 674.2 L568.2 671.6 L556.9 666.0 L545.1 660.1 L530.6 657.9 L516.6 662.9 L508.4 669.1 L499.3 674.8 L487.5 679.2 L476.2 683.5 L464.4 687.9 L452.6 690.7 L441.3 691.7 L430.0 689.5 L417.7 690.7 L405.0 695.1 L395.1 692.9 L383.7 689.8 L370.6 692.9 Z" fill="#2ca02c" fill-opacity="0.15"/>
<path d="M370.6 632.2 L395.1 630.7 L404.1 626.0 L418.2 591.6 L425.4 584.1 L444.5 563.1 L454.0 544.7 L459.9 538.4 L476.2 534.1 L493.4 531.2 L509.8 529.7 L522.0 529.7 L526.5 497.8 L585.5 497.8 L590.0 509.4 L599.1 516.5 L603.6 507.2 L624.0 507.2 L627.2 516.5 L631.3 527.2 L636.7 531.6 L642.1 534.1 L646.7 535.3 L646.7 626.0 L621.7 624.4 L599.5 619.7 L598.2 672.9 L576.4 677.6 L553.7 677.6 L531.1 679.2 L509.8 686.3 L485.7 689.5 L463.1 697.9 L430.0 697.9 L395.1 701.0 L370.6 697.9 Z" fill="#d62728" fill-opacity="0.15"/>
<path d="M372.40 501.50 V707.40 M417.73 501.50 V707.40 M463.07 501.50 V707.40 M508.40 501.50 V707.40 M553.73 501.50 V707.40 M599.07 501.50 V707.40 M644.40 501.50 V707.40 M370.60 704.17 H646.90 M370.60 672.90 H646.90 M370.60 641.63 H646.90 M370.60 610.36 H646.90 M370.60 579.09 H646.90 M370.60 547.82 H646.90 M370.60 516.55 H646.90" stroke="#b0b0b0" stroke-width="0.9" fill="none"/>
<path d="M370.6 592.2 L377.8 593.5 L386.5 593.5 L395.1 583.5 L406.4 576.3 L413.7 574.7 L422.3 576.9 L432.7 566.0 L439.9 556.0 L449.9 552.8 L461.7 555.3 L467.1 557.2 L476.2 551.6 L484.8 541.3 L496.2 539.1 L504.8 538.4 L509.8 538.4 L513.4 554.4 L522.0 563.1 L532.4 570.3 L542.4 567.5 L553.7 560.3 L565.5 548.4 L576.9 544.1 L588.6 548.4 L595.9 551.6 L603.1 526.9 L611.8 505.0 L620.4 502.2 L631.7 503.7 L643.5 509.4 L646.7 515.3" stroke="#1f77b4" stroke-width="1.6" stroke-dasharray="1.5 1.8" fill="none"/>
<path d="M370.6 681.3 L383.7 681.3 L395.1 685.1 L405.0 688.8 L417.7 682.0 L430.0 682.9 L441.3 680.7 L452.6 682.0 L464.4 679.8 L476.2 680.1 L487.5 674.8 L499.3 672.9 L508.4 671.6 L517.0 675.1 L528.8 675.1 L539.7 671.3 L555.5 666.0 L565.5 653.8 L574.1 650.1 L584.1 652.9 L591.4 658.2 L601.3 648.5 L611.8 628.2 L623.1 615.4 L631.7 616.0 L640.3 618.2 L646.7 621.0" stroke="#1f77b4" stroke-width="1.6" stroke-dasharray="1.5 1.8" fill="none"/>
<path d="M370.6 529.1 L371.5 532.8 L373.3 570.3 L376.0 605.4 L383.7 609.4 L395.1 606.6 L406.4 601.0 L417.7 597.9 L430.0 592.2 L439.9 580.7 L449.9 569.7 L461.7 561.3 L476.2 558.1 L493.4 561.3 L504.8 554.4 L513.4 545.6 L525.2 534.1 L539.7 532.2 L551.0 531.2 L562.8 523.7 L576.9 515.9 L588.6 520.9 L597.3 541.3 L604.5 573.1 L611.8 602.2 L620.4 583.5 L629.0 577.5 L640.3 570.3 L646.7 567.5" stroke="#2ca02c" stroke-width="1.6" stroke-dasharray="1.5 1.8" fill="none"/>
<path d="M370.6 692.9 L383.7 689.8 L395.1 692.9 L405.0 695.1 L417.7 690.7 L430.0 689.5 L441.3 691.7 L452.6 690.7 L464.4 687.9 L476.2 683.5 L487.5 679.2 L499.3 674.8 L508.4 669.1 L516.6 662.9 L530.6 657.9 L545.1 660.1 L556.9 666.0 L568.2 671.6 L580.0 674.2 L591.4 671.3 L600.0 657.3 L608.6 651.6 L621.7 650.1 L626.3 616.6 L631.7 600.0 L640.3 599.4 L646.7 597.9" stroke="#2ca02c" stroke-width="1.6" stroke-dasharray="1.5 1.8" fill="none"/>
<path d="M371.5 644.4 L386.5 648.2 L395.1 647.3 L406.4 642.9 L417.7 640.7 L430.0 637.3 L439.9 629.7 L449.9 626.0 L463.1 626.9 L469.0 627.9 L476.2 625.4 L487.5 616.9 L496.2 615.4 L504.8 614.7 L516.6 619.7 L530.6 623.2 L539.7 622.6 L549.7 620.1 L558.3 612.2 L568.2 597.9 L575.5 594.4 L584.1 596.3 L600.0 600.0 L604.5 591.9 L613.1 576.0 L620.4 570.3 L629.0 568.8 L639.0 576.0 L646.2 584.1" stroke="#1f77b4" stroke-width="2.1" fill="none" stroke-linejoin="round" stroke-linecap="square"/>
<path d="M371.5 663.8 L383.7 660.4 L395.1 657.6 L406.4 654.5 L417.7 651.0 L430.0 645.7 L439.9 640.7 L449.9 634.8 L463.1 632.9 L476.2 629.1 L487.5 626.9 L502.1 625.1 L509.8 622.9 L516.6 619.1 L530.6 611.0 L539.7 607.2 L549.7 606.6 L556.9 609.4 L566.9 613.8 L575.5 596.3 L585.5 570.3 L597.3 568.8 L608.6 567.5 L620.4 566.6 L629.0 573.1 L640.8 581.9 L646.2 579.1" stroke="#ff7f0e" stroke-width="2.1" fill="none" stroke-linejoin="round" stroke-linecap="square"/>
<path d="M371.5 653.2 L383.7 656.0 L395.1 657.6 L405.0 658.8 L417.7 656.0 L430.0 653.8 L439.9 649.8 L449.9 643.8 L461.7 632.9 L470.3 627.9 L481.7 624.1 L493.4 622.6 L502.1 619.1 L509.8 616.6 L516.6 609.4 L530.6 595.7 L539.7 592.8 L548.3 595.0 L556.9 596.3 L566.9 590.0 L575.5 580.3 L584.1 584.7 L591.4 596.3 L603.1 623.8 L611.8 627.2 L621.7 619.4 L630.3 587.8 L646.2 584.7" stroke="#2ca02c" stroke-width="2.1" fill="none" stroke-linejoin="round" stroke-linecap="square"/>
<path d="M371.5 665.4 L383.7 667.0 L395.1 666.0 L405.0 666.6 L417.7 661.3 L430.0 656.6 L441.3 651.0 L451.3 645.7 L458.5 637.3 L467.1 630.7 L476.2 625.4 L484.8 621.3 L496.2 612.5 L504.8 607.2 L516.6 597.9 L527.9 587.8 L539.7 582.8 L549.7 590.7 L558.3 601.6 L568.2 597.2 L580.0 595.0 L592.7 592.8 L603.1 577.5 L611.8 566.9 L621.7 570.3 L630.3 585.3 L639.0 584.7 L646.2 579.1" stroke="#d62728" stroke-width="2.1" fill="none" stroke-linejoin="round" stroke-linecap="square"/>
<path d="M370.60 672.90 H646.90" stroke="#000" stroke-width="2.0"/>
</g>
<rect x="370.60" y="501.50" width="276.30" height="205.90" fill="none" stroke="#111" stroke-width="1.1"/>
<path d="M372.40 707.40 v3.5 M417.73 707.40 v3.5 M463.07 707.40 v3.5 M508.40 707.40 v3.5 M553.73 707.40 v3.5 M599.07 707.40 v3.5 M644.40 707.40 v3.5 M370.60 704.17 h-3.5 M370.60 672.90 h-3.5 M370.60 641.63 h-3.5 M370.60 610.36 h-3.5 M370.60 579.09 h-3.5 M370.60 547.82 h-3.5 M370.60 516.55 h-3.5" stroke="#111" stroke-width="1.1"/>
<path d="M346.55 704.32 H351.77" stroke="#000" stroke-width="0.95"/>
<rect x="370.2" y="259.4" width="129.2" height="69.8" rx="2.5" ry="2.5" fill="#fff" fill-opacity="0.8" stroke="#cccccc" stroke-width="0.9"/>
<path d="M374.1 268.60 H397.7" stroke="#1f77b4" stroke-width="2.1"/>
<path d="M374.1 285.20 H397.7" stroke="#ff7f0e" stroke-width="2.1"/>
<path d="M374.1 301.80 H397.7" stroke="#2ca02c" stroke-width="2.1"/>
<path d="M374.1 318.40 H397.7" stroke="#d62728" stroke-width="2.1"/>
</g>
<g filter="url(#idf)">
<text x="58.40" y="231.60" text-anchor="middle" font-size="8.90" textLength="14.88" lengthAdjust="spacingAndGlyphs">400</text>
<text x="97.39" y="231.60" text-anchor="middle" font-size="8.90" textLength="14.88" lengthAdjust="spacingAndGlyphs">600</text>
<text x="136.37" y="231.60" text-anchor="middle" font-size="8.90" textLength="14.88" lengthAdjust="spacingAndGlyphs">800</text>
<text x="175.36" y="231.60" text-anchor="middle" font-size="8.90" textLength="19.84" lengthAdjust="spacingAndGlyphs">1000</text>
<text x="214.34" y="231.60" text-anchor="middle" font-size="8.90" textLength="19.84" lengthAdjust="spacingAndGlyphs">1200</text>
<text x="253.33" y="231.60" text-anchor="middle" font-size="8.90" textLength="19.84" lengthAdjust="spacingAndGlyphs">1400</text>
<text x="292.31" y="231.60" text-anchor="middle" font-size="8.90" textLength="19.84" lengthAdjust="spacingAndGlyphs">1600</text>
<text x="331.30" y="231.60" text-anchor="middle" font-size="8.90" textLength="19.84" lengthAdjust="spacingAndGlyphs">1800</text>
<text x="33.70" y="20.15" text-anchor="end" font-size="8.90" textLength="4.96" lengthAdjust="spacingAndGlyphs">0</text>
<text x="33.70" y="60.63" text-anchor="end" font-size="8.90" textLength="9.92" lengthAdjust="spacingAndGlyphs">10</text>
<text x="33.70" y="101.11" text-anchor="end" font-size="8.90" textLength="9.92" lengthAdjust="spacingAndGlyphs">20</text>
<text x="33.70" y="141.59" text-anchor="end" font-size="8.90" textLength="9.92" lengthAdjust="spacingAndGlyphs">30</text>
<text x="33.70" y="182.07" text-anchor="end" font-size="8.90" textLength="9.92" lengthAdjust="spacingAndGlyphs">40</text>
<text x="33.70" y="222.55" text-anchor="end" font-size="8.90" textLength="9.92" lengthAdjust="spacingAndGlyphs">50</text>
<text x="372.40" y="231.60" text-anchor="middle" font-size="8.90" textLength="14.88" lengthAdjust="spacingAndGlyphs">100</text>
<text x="420.42" y="231.60" text-anchor="middle" font-size="8.90" textLength="14.88" lengthAdjust="spacingAndGlyphs">200</text>
<text x="468.43" y="231.60" text-anchor="middle" font-size="8.90" textLength="14.88" lengthAdjust="spacingAndGlyphs">300</text>
<text x="516.45" y="231.60" text-anchor="middle" font-size="8.90" textLength="14.88" lengthAdjust="spacingAndGlyphs">400</text>
<text x="564.47" y="231.60" text-anchor="middle" font-size="8.90" textLength="14.88" lengthAdjust="spacingAndGlyphs">500</text>
<text x="612.48" y="231.60" text-anchor="middle" font-size="8.90" textLength="14.88" lengthAdjust="spacingAndGlyphs">600</text>
<text x="660.50" y="231.60" text-anchor="middle" font-size="8.90" textLength="14.88" lengthAdjust="spacingAndGlyphs">700</text>
<text x="364.30" y="20.15" text-anchor="end" font-size="8.90" textLength="4.96" lengthAdjust="spacingAndGlyphs">0</text>
<text x="364.30" y="60.63" text-anchor="end" font-size="8.90" textLength="9.92" lengthAdjust="spacingAndGlyphs">10</text>
<text x="364.30" y="101.11" text-anchor="end" font-size="8.90" textLength="9.92" lengthAdjust="spacingAndGlyphs">20</text>
<text x="364.30" y="141.59" text-anchor="end" font-size="8.90" textLength="9.92" lengthAdjust="spacingAndGlyphs">30</text>
<text x="364.30" y="182.07" text-anchor="end" font-size="8.90" textLength="9.92" lengthAdjust="spacingAndGlyphs">40</text>
<text x="364.30" y="222.55" text-anchor="end" font-size="8.90" textLength="9.92" lengthAdjust="spacingAndGlyphs">50</text>
<text x="61.07" y="481.60" text-anchor="middle" font-size="8.90" textLength="14.88" lengthAdjust="spacingAndGlyphs">400</text>
<text x="99.60" y="481.60" text-anchor="middle" font-size="8.90" textLength="14.88" lengthAdjust="spacingAndGlyphs">600</text>
<text x="138.14" y="481.60" text-anchor="middle" font-size="8.90" textLength="14.88" lengthAdjust="spacingAndGlyphs">800</text>
<text x="176.67" y="481.60" text-anchor="middle" font-size="8.90" textLength="19.84" lengthAdjust="spacingAndGlyphs">1000</text>
<text x="215.20" y="481.60" text-anchor="middle" font-size="8.90" textLength="19.84" lengthAdjust="spacingAndGlyphs">1200</text>
<text x="253.73" y="481.60" text-anchor="middle" font-size="8.90" textLength="19.84" lengthAdjust="spacingAndGlyphs">1400</text>
<text x="292.27" y="481.60" text-anchor="middle" font-size="8.90" textLength="19.84" lengthAdjust="spacingAndGlyphs">1600</text>
<text x="330.80" y="481.60" text-anchor="middle" font-size="8.90" textLength="19.84" lengthAdjust="spacingAndGlyphs">1800</text>
<text x="35.90" y="472.55" text-anchor="end" font-size="8.90" textLength="4.96" lengthAdjust="spacingAndGlyphs">5</text>
<text x="35.90" y="441.71" text-anchor="end" font-size="8.90" textLength="4.96" lengthAdjust="spacingAndGlyphs">0</text>
<text x="35.90" y="410.86" text-anchor="end" font-size="8.90" textLength="4.96" lengthAdjust="spacingAndGlyphs">5</text>
<text x="35.90" y="380.02" text-anchor="end" font-size="8.90" textLength="9.92" lengthAdjust="spacingAndGlyphs">10</text>
<text x="35.90" y="349.18" text-anchor="end" font-size="8.90" textLength="9.92" lengthAdjust="spacingAndGlyphs">15</text>
<text x="35.90" y="318.34" text-anchor="end" font-size="8.90" textLength="9.92" lengthAdjust="spacingAndGlyphs">20</text>
<text x="35.90" y="287.49" text-anchor="end" font-size="8.90" textLength="9.92" lengthAdjust="spacingAndGlyphs">25</text>
<text x="35.90" y="256.65" text-anchor="end" font-size="8.90" textLength="9.92" lengthAdjust="spacingAndGlyphs">30</text>
<text x="366.40" y="481.60" text-anchor="middle" font-size="8.90" textLength="14.88" lengthAdjust="spacingAndGlyphs">100</text>
<text x="413.98" y="481.60" text-anchor="middle" font-size="8.90" textLength="14.88" lengthAdjust="spacingAndGlyphs">200</text>
<text x="461.57" y="481.60" text-anchor="middle" font-size="8.90" textLength="14.88" lengthAdjust="spacingAndGlyphs">300</text>
<text x="509.15" y="481.60" text-anchor="middle" font-size="8.90" textLength="14.88" lengthAdjust="spacingAndGlyphs">400</text>
<text x="556.73" y="481.60" text-anchor="middle" font-size="8.90" textLength="14.88" lengthAdjust="spacingAndGlyphs">500</text>
<text x="604.32" y="481.60" text-anchor="middle" font-size="8.90" textLength="14.88" lengthAdjust="spacingAndGlyphs">600</text>
<text x="651.90" y="481.60" text-anchor="middle" font-size="8.90" textLength="14.88" lengthAdjust="spacingAndGlyphs">700</text>
<text x="359.00" y="472.55" text-anchor="end" font-size="8.90" textLength="4.96" lengthAdjust="spacingAndGlyphs">5</text>
<text x="359.00" y="441.71" text-anchor="end" font-size="8.90" textLength="4.96" lengthAdjust="spacingAndGlyphs">0</text>
<text x="359.00" y="410.86" text-anchor="end" font-size="8.90" textLength="4.96" lengthAdjust="spacingAndGlyphs">5</text>
<text x="359.00" y="380.02" text-anchor="end" font-size="8.90" textLength="9.92" lengthAdjust="spacingAndGlyphs">10</text>
<text x="359.00" y="349.18" text-anchor="end" font-size="8.90" textLength="9.92" lengthAdjust="spacingAndGlyphs">15</text>
<text x="359.00" y="318.34" text-anchor="end" font-size="8.90" textLength="9.92" lengthAdjust="spacingAndGlyphs">20</text>
<text x="359.00" y="287.49" text-anchor="end" font-size="8.90" textLength="9.92" lengthAdjust="spacingAndGlyphs">25</text>
<text x="359.00" y="256.65" text-anchor="end" font-size="8.90" textLength="9.92" lengthAdjust="spacingAndGlyphs">30</text>
<text x="74.25" y="719.60" text-anchor="middle" font-size="8.90" textLength="14.88" lengthAdjust="spacingAndGlyphs">400</text>
<text x="110.97" y="719.60" text-anchor="middle" font-size="8.90" textLength="14.88" lengthAdjust="spacingAndGlyphs">600</text>
<text x="147.69" y="719.60" text-anchor="middle" font-size="8.90" textLength="14.88" lengthAdjust="spacingAndGlyphs">800</text>
<text x="184.41" y="719.60" text-anchor="middle" font-size="8.90" textLength="19.84" lengthAdjust="spacingAndGlyphs">1000</text>
<text x="221.14" y="719.60" text-anchor="middle" font-size="8.90" textLength="19.84" lengthAdjust="spacingAndGlyphs">1200</text>
<text x="257.86" y="719.60" text-anchor="middle" font-size="8.90" textLength="19.84" lengthAdjust="spacingAndGlyphs">1400</text>
<text x="294.58" y="719.60" text-anchor="middle" font-size="8.90" textLength="19.84" lengthAdjust="spacingAndGlyphs">1600</text>
<text x="331.30" y="719.60" text-anchor="middle" font-size="8.90" textLength="19.84" lengthAdjust="spacingAndGlyphs">1800</text>
<text x="49.90" y="707.32" text-anchor="end" font-size="8.90" textLength="12.40" lengthAdjust="spacingAndGlyphs">0.1</text>
<text x="49.90" y="676.05" text-anchor="end" font-size="8.90" textLength="12.40" lengthAdjust="spacingAndGlyphs">0.0</text>
<text x="49.90" y="644.78" text-anchor="end" font-size="8.90" textLength="12.40" lengthAdjust="spacingAndGlyphs">0.1</text>
<text x="49.90" y="613.51" text-anchor="end" font-size="8.90" textLength="12.40" lengthAdjust="spacingAndGlyphs">0.2</text>
<text x="49.90" y="582.24" text-anchor="end" font-size="8.90" textLength="12.40" lengthAdjust="spacingAndGlyphs">0.3</text>
<text x="49.90" y="550.97" text-anchor="end" font-size="8.90" textLength="12.40" lengthAdjust="spacingAndGlyphs">0.4</text>
<text x="49.90" y="519.70" text-anchor="end" font-size="8.90" textLength="12.40" lengthAdjust="spacingAndGlyphs">0.5</text>
<text x="372.40" y="719.60" text-anchor="middle" font-size="8.90" textLength="14.88" lengthAdjust="spacingAndGlyphs">100</text>
<text x="417.73" y="719.60" text-anchor="middle" font-size="8.90" textLength="14.88" lengthAdjust="spacingAndGlyphs">200</text>
<text x="463.07" y="719.60" text-anchor="middle" font-size="8.90" textLength="14.88" lengthAdjust="spacingAndGlyphs">300</text>
<text x="508.40" y="719.60" text-anchor="middle" font-size="8.90" textLength="14.88" lengthAdjust="spacingAndGlyphs">400</text>
<text x="553.73" y="719.60" text-anchor="middle" font-size="8.90" textLength="14.88" lengthAdjust="spacingAndGlyphs">500</text>
<text x="599.07" y="719.60" text-anchor="middle" font-size="8.90" textLength="14.88" lengthAdjust="spacingAndGlyphs">600</text>
<text x="644.40" y="719.60" text-anchor="middle" font-size="8.90" textLength="14.88" lengthAdjust="spacingAndGlyphs">700</text>
<text x="365.00" y="707.32" text-anchor="end" font-size="8.90" textLength="12.40" lengthAdjust="spacingAndGlyphs">0.1</text>
<text x="365.00" y="676.05" text-anchor="end" font-size="8.90" textLength="12.40" lengthAdjust="spacingAndGlyphs">0.0</text>
<text x="365.00" y="644.78" text-anchor="end" font-size="8.90" textLength="12.40" lengthAdjust="spacingAndGlyphs">0.1</text>
<text x="365.00" y="613.51" text-anchor="end" font-size="8.90" textLength="12.40" lengthAdjust="spacingAndGlyphs">0.2</text>
<text x="365.00" y="582.24" text-anchor="end" font-size="8.90" textLength="12.40" lengthAdjust="spacingAndGlyphs">0.3</text>
<text x="365.00" y="550.97" text-anchor="end" font-size="8.90" textLength="12.40" lengthAdjust="spacingAndGlyphs">0.4</text>
<text x="365.00" y="519.70" text-anchor="end" font-size="8.90" textLength="12.40" lengthAdjust="spacingAndGlyphs">0.5</text>
<text transform="translate(10.20 109.95) rotate(-90)" text-anchor="middle" font-size="11.70" textLength="144.10" lengthAdjust="spacingAndGlyphs">CSF ABeta yearly change</text>
<text transform="translate(18.80 360.70) rotate(-90)" text-anchor="middle" font-size="11.70" textLength="129.80" lengthAdjust="spacingAndGlyphs">CSF Tau yearly change</text>
<text transform="translate(26.20 603.85) rotate(-90)" text-anchor="middle" font-size="11.20" textLength="139.90" lengthAdjust="spacingAndGlyphs">ADAS-Mem yearly change</text>
<text x="193.9" y="731.0" text-anchor="middle" font-size="10.9" textLength="54.8" lengthAdjust="spacingAndGlyphs">CSF ABeta</text>
<text x="509.6" y="731.0" text-anchor="middle" font-size="10.9" textLength="43.9" lengthAdjust="spacingAndGlyphs">CSF Tau</text>
<text x="406.4" y="272.40" font-size="11.9" style="stroke-width:0.2px" textLength="62.97" lengthAdjust="spacingAndGlyphs">Older male</text>
<text x="406.4" y="289.00" font-size="11.9" style="stroke-width:0.2px" textLength="79.94" lengthAdjust="spacingAndGlyphs">Older females</text>
<text x="406.4" y="305.60" font-size="11.9" style="stroke-width:0.2px" textLength="77.70" lengthAdjust="spacingAndGlyphs">Younger male</text>
<text x="406.4" y="322.20" font-size="11.9" style="stroke-width:0.2px" textLength="88.74" lengthAdjust="spacingAndGlyphs">Younger female</text>
</g></svg></div>
</body></html>
